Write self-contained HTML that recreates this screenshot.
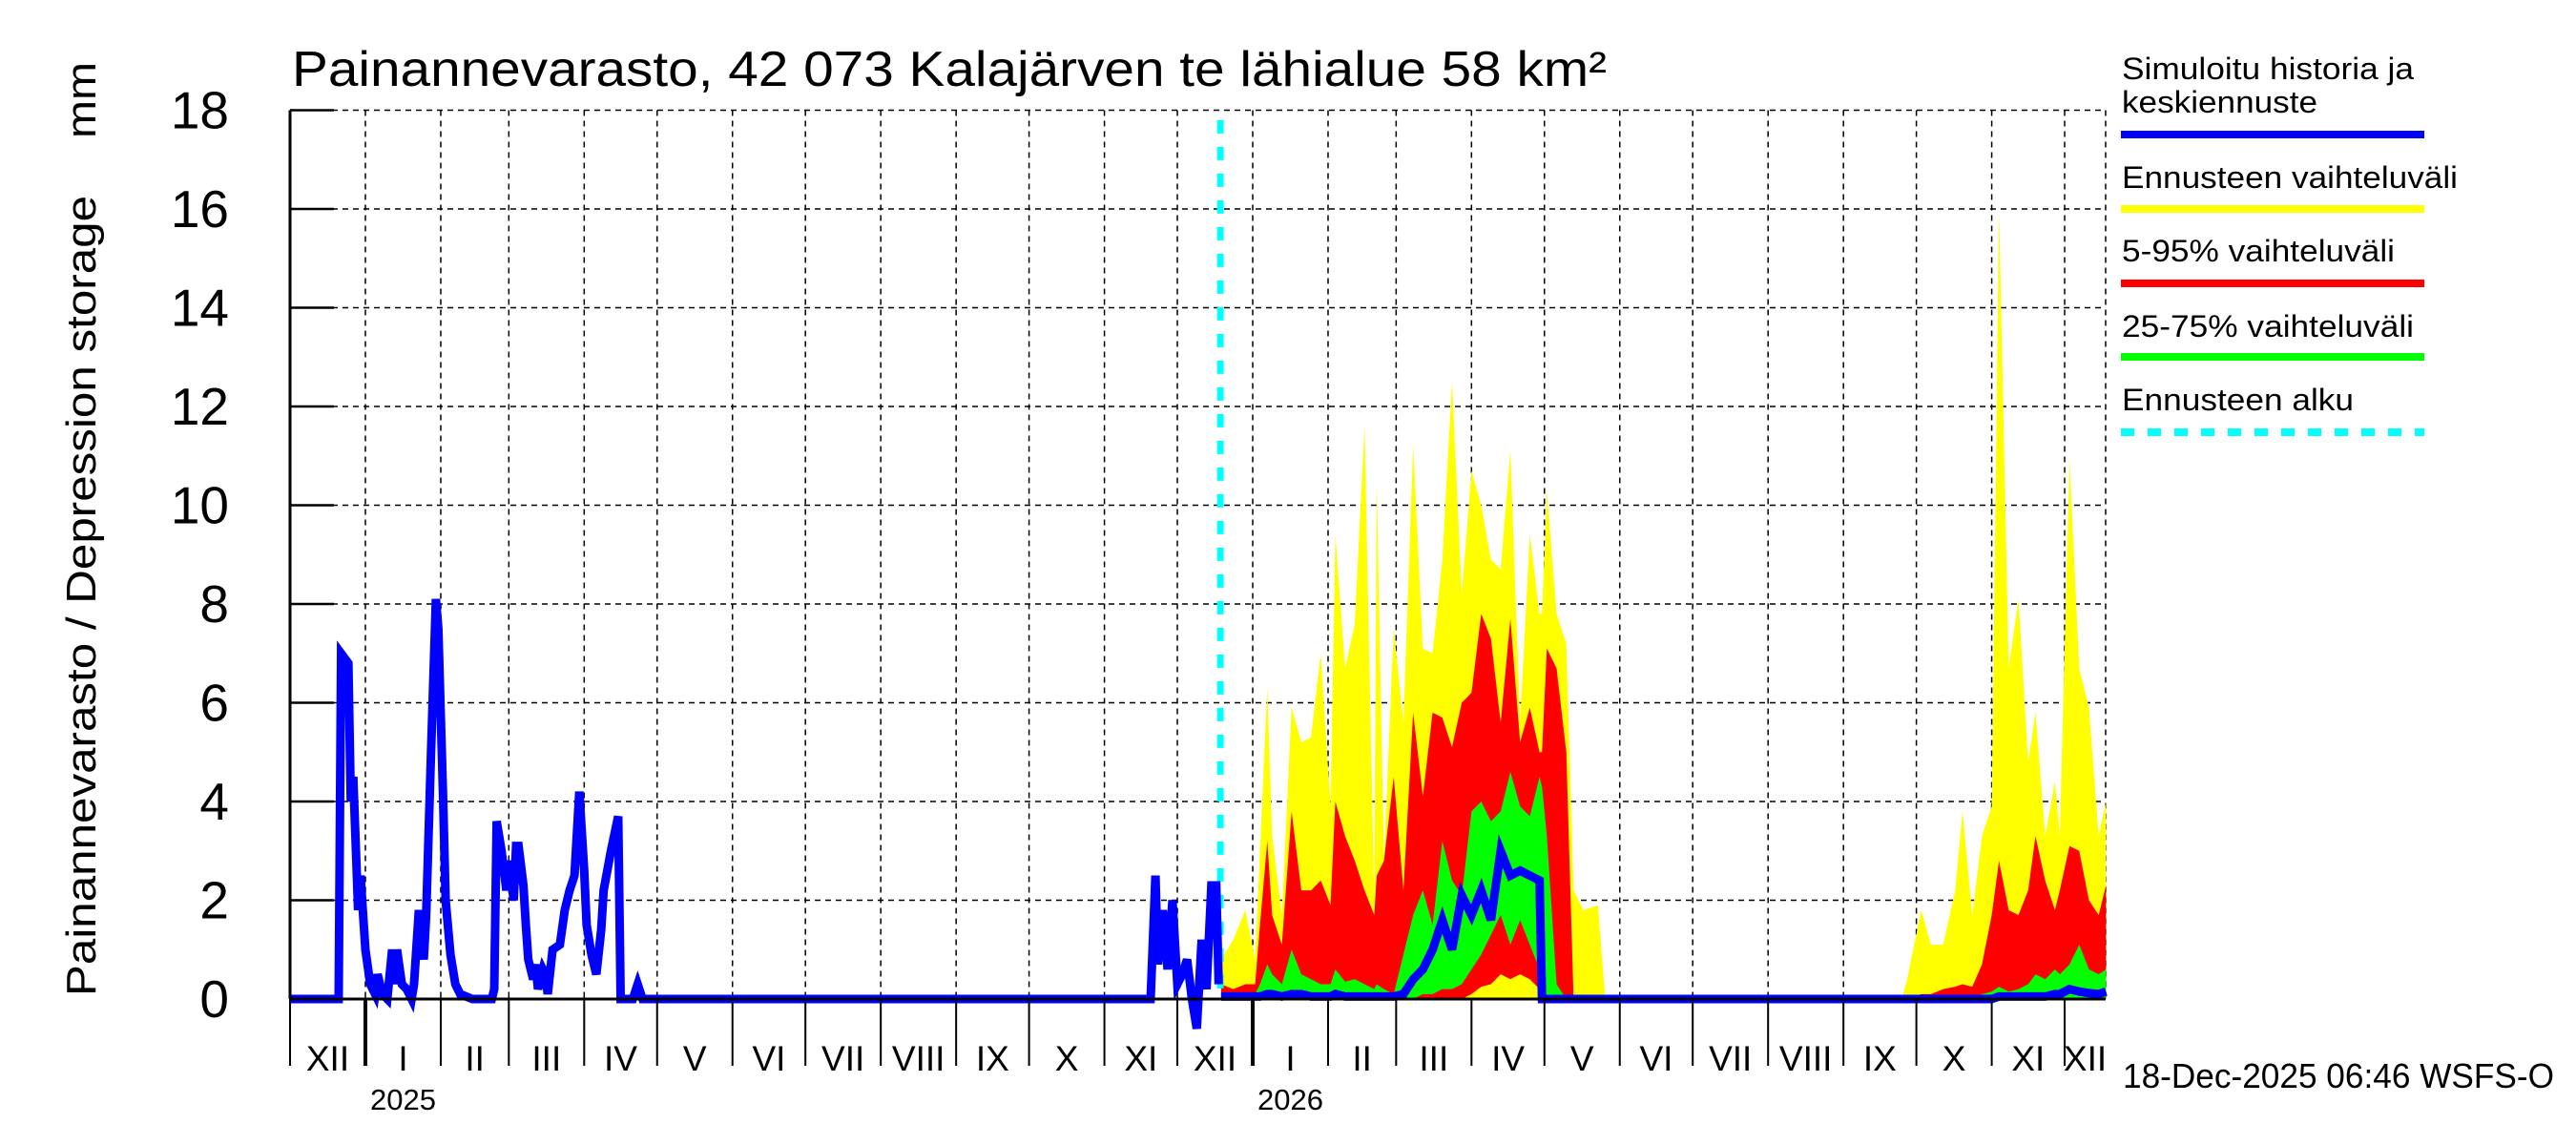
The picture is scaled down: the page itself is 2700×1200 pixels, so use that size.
<!DOCTYPE html>
<html><head><meta charset="utf-8"><style>
html,body{margin:0;padding:0;background:#fff;}
svg{display:block;font-family:"Liberation Sans",Arial,sans-serif;}
</style></head><body>
<svg id="chart" width="2700" height="1200" viewBox="0 0 2700 1200" xmlns="http://www.w3.org/2000/svg">
<rect width="2700" height="1200" fill="#fff"/>
<g id="grid"></g>
<g id="bands"></g>
<g id="lines"></g>
<g id="axes"></g>
<text x="306" y="90" font-size="52" textLength="1378" lengthAdjust="spacingAndGlyphs">Painannevarasto, 42 073 Kalajärven te lähialue 58 km²</text>
<text transform="translate(100,1044) rotate(-90)" font-size="44" textLength="839" lengthAdjust="spacingAndGlyphs">Painannevarasto / Depression storage</text>
<text transform="translate(100,145) rotate(-90)" font-size="44" textLength="80" lengthAdjust="spacingAndGlyphs">mm</text>
<g font-size="32">
<text x="2224" y="83" textLength="306" lengthAdjust="spacingAndGlyphs">Simuloitu historia ja</text>
<text x="2224" y="118" textLength="205" lengthAdjust="spacingAndGlyphs">keskiennuste</text>
<line x1="2223" y1="141" x2="2541" y2="141" stroke="#0000ff" stroke-width="8"/>
<text x="2224" y="197" textLength="352" lengthAdjust="spacingAndGlyphs">Ennusteen vaihteluväli</text>
<line x1="2223" y1="219" x2="2541" y2="219" stroke="#ffff00" stroke-width="8"/>
<text x="2224" y="274" textLength="286" lengthAdjust="spacingAndGlyphs">5-95% vaihteluväli</text>
<line x1="2223" y1="297" x2="2541" y2="297" stroke="#ff0000" stroke-width="8"/>
<text x="2224" y="353" textLength="306" lengthAdjust="spacingAndGlyphs">25-75% vaihteluväli</text>
<line x1="2223" y1="374" x2="2541" y2="374" stroke="#00ff00" stroke-width="8"/>
<text x="2224" y="430" textLength="243" lengthAdjust="spacingAndGlyphs">Ennusteen alku</text>
<line x1="2223" y1="453" x2="2541" y2="453" stroke="#00ffff" stroke-width="8" stroke-dasharray="14,14"/>
</g>
<text x="2225" y="1140" font-size="36" textLength="452" lengthAdjust="spacingAndGlyphs">18-Dec-2025 06:46 WSFS-O</text>
</svg>
<script>
const yTicks=[0,2,4,6,8,10,12,14,16,18];
const monthNames=["I","II","III","IV","V","VI","VII","VIII","IX","X","XI","XII"];
const forecastStartDay=382;
const histDays=[0,20,21,24,25,26,28,29,31,33,35,36,38,40,42,43,44,46,48,50,51,53,55,56,58,60,61,63,64,66,68,70,75,83,84,85,87,89,90,92,93,94,96,97,98,100,101,102,104,105,106,108,111,113,115,117,119,121,122,124,126,128,129,132,135,136,141,143,145,354,356,357,359,361,363,365,367,369,371,373,375,377,379,381,382];
const histVals=[0,0,7.0,6.8,4.0,4.5,1.8,2.5,1.0,0.3,0.1,0.5,0.1,0,1.0,0.3,1.0,0.3,0.2,0,0.3,1.8,0.8,1.7,5.0,8.1,7.5,4.0,2.0,0.9,0.3,0.1,0,0,0.2,3.6,3.0,2.2,2.8,2.0,3.1,3.1,2.3,1.5,0.8,0.4,0.7,0.2,0.6,0.5,0.1,1.0,1.1,1.8,2.2,2.5,4.2,2.6,1.5,0.9,0.5,1.4,2.2,3.0,3.7,0,0,0.3,0,0,2.5,0.7,1.8,0.6,2.0,0.3,0.5,0.8,0,-0.6,1.2,0.2,2.3,2.3,0.3];
const fDays=[383,388,393,397,399,402,404,408,412,416,420,424,428,430,434,438,442,446,447,450,454,458,462,466,470,474,478,482,486,490,494,498,502,506,510,514,515,517,521,525,528,532,538,541,663,665,671,675,680,685,688,692,696,700,703,707,711,715,718,722,726,728,732,736,740,744,747];
const yMax=[0.8,1.2,1.8,0.8,3.0,6.3,3.3,1.7,5.9,5.2,5.3,7.0,3.9,9.4,6.7,7.6,11.6,2.0,10.5,2.8,7.5,5.6,11.2,7.1,7.0,8.9,12.5,8.2,10.7,10.0,8.9,8.7,11.1,5.6,9.4,7.8,7.8,10.3,7.8,7.2,2.2,1.8,1.9,0,0,0.35,1.8,1.1,1.1,2.2,3.8,1.7,3.3,3.9,16.0,6.7,8.1,4.8,5.8,3.3,4.4,3.3,10.9,6.7,5.9,3.3,4.0];
const rMax=[0.3,0.2,0.3,0.3,1.5,3.2,1.7,1.1,3.8,2.2,2.2,2.4,1.9,4.0,3.3,2.8,2.2,1.7,2.5,2.8,4.5,2.2,5.8,4.1,5.8,5.7,5.1,6.0,6.2,7.8,7.3,5.6,7.7,5.2,5.9,5.0,5.0,7.1,6.7,5.0,0,0,0,0,0,0,0.1,0.1,0.2,0.25,0.3,0.25,0.7,1.7,2.8,1.8,1.7,2.2,3.3,2.4,1.8,2.2,3.1,3.0,2.0,1.7,2.3];
const rMin=[0,0,0,0,0,0,0,0,0,0,0,0,0,0,0,0,0,0,0,0,0,0,0,0,0,0,0,0,0.1,0.25,0.3,0.5,0.4,0.5,0.4,0.2,0.2,0,0,0,0,0,0,0,0,0,0,0,0,0,0,0,0,0,0,0,0,0,0,0,0,0,0,0,0,0,0];
const gMax=[0.1,0.05,0.1,0.1,0.3,0.7,0.5,0.3,1.0,0.5,0.4,0.3,0.3,0.6,0.35,0.4,0.3,0.2,0.3,0.2,0.1,0.9,1.7,2.2,1.5,3.2,2.4,2.1,3.8,4.0,3.6,3.8,4.6,3.9,3.7,4.5,4.3,3.3,0.3,0,0,0,0,0,0,0,0,0,0,0,0.02,0.05,0.1,0.15,0.25,0.15,0.2,0.3,0.5,0.4,0.6,0.5,0.7,1.1,0.6,0.5,0.6];
const gMin=[0,0,0,0,0,0,0,0,0,0,0,0,0,0,0,0,0,0,0,0,0,0,0,0.1,0.1,0.2,0.2,0.3,0.6,0.9,1.3,1.7,1.1,1.6,1.1,0.6,0.5,0,0,0,0,0,0,0,0,0,0,0,0,0,0,0,0,0,0,0,0,0,0,0,0,0,0,0,0,0,0];
const med=[0.05,0.05,0.05,0.05,0.05,0.1,0.1,0.05,0.1,0.1,0.05,0.05,0.05,0.1,0.05,0.05,0.05,0.05,0.05,0.05,0.05,0.1,0.4,0.6,1.0,1.6,1.0,2.1,1.7,2.2,1.6,3.0,2.5,2.6,2.5,2.4,0,0,0,0,0,0,0,0,0,0,0,0,0,0,0,0,0,0,0.05,0.05,0.05,0.05,0.05,0.05,0.1,0.1,0.2,0.15,0.12,0.1,0.15];

const NS="http://www.w3.org/2000/svg";
const X0=304,X1=2207,Y0=1047,PXD=2.548,PXV=51.75;
function X(d){return X0+d*PXD;}
function Y(v){return Y0-v*PXV;}
function mk(tag,attrs,parent){const e=document.createElementNS(NS,tag);for(const k in attrs)e.setAttribute(k,attrs[k]);parent.appendChild(e);return e;}
const grid=document.getElementById('grid'),bands=document.getElementById('bands'),lines=document.getElementById('lines'),axes=document.getElementById('axes');
const base=Date.UTC(2024,11,1);
function dayOf(y,m){return (Date.UTC(y,m,1)-base)/86400000;}
const bounds=[];
for(let y=2024,m=11;;){const d=dayOf(y,m);if(X(d)>X1+1)break;bounds.push({d:d,y:y,m:m});m++;if(m>11){m=0;y++;}}
bounds.forEach((b,i)=>{
  if(i>0){const gl=mk('line',{x1:X(b.d),y1:Y(18),x2:X(b.d),y2:Y0,stroke:'#000','stroke-width':1.5,'stroke-dasharray':'6,5'},grid);
  
  }
  const tk=mk('line',{x1:X(b.d),y1:Y0,x2:X(b.d),y2:1117,stroke:'#000','stroke-width':b.m===0?4:2},axes);
  
  
  const next=i+1<bounds.length?bounds[i+1].d:(X1-X0)/PXD;
  const t=mk('text',{x:(X(b.d)+X(next))/2,y:1122,'font-size':37,'text-anchor':'middle'},axes);
  t.textContent=monthNames[b.m];
  
  
  if(b.m===0){const yt=mk('text',{x:(X(b.d)+X(next))/2,y:1163,'font-size':31,'text-anchor':'middle'},axes);yt.textContent=String(b.y);
  
  }
});
const rg=mk('line',{x1:X1,y1:Y(18),x2:X1,y2:Y0,stroke:'#000','stroke-width':1.5,'stroke-dasharray':'6,5'},grid);


yTicks.forEach(v=>{
  if(v>0){const gl=mk('line',{x1:X0,y1:Y(v),x2:X1,y2:Y(v),stroke:'#000','stroke-width':1.5,'stroke-dasharray':'6,5'},grid);
  
  }
  const tk=mk('line',{x1:X0,y1:Y(v),x2:X0+46,y2:Y(v),stroke:'#000','stroke-width':2.5},axes);
  
  
  const t=mk('text',{x:240,y:Y(v)+19,'font-size':55,'text-anchor':'end'},axes);t.textContent=String(v);
  
  
});
const ya=mk('line',{x1:X0,y1:Y(18),x2:X0,y2:Y0,stroke:'#000','stroke-width':3},axes);


const xa=mk('line',{x1:X0,y1:Y0,x2:X1,y2:Y0,stroke:'#000','stroke-width':3},axes);


function band(lo,hi,color,name){
  let p=fDays.map((d,i)=>X(d)+','+Y(hi[i])).join(' ');
  for(let i=fDays.length-1;i>=0;i--)p+=' '+X(fDays[i])+','+Y(lo[i]);
  const e=mk('polygon',{points:p,fill:color},bands);
  
  
}
const zeros=fDays.map(()=>0);
band(zeros,yMax,'#ffff00','band-min-max');
band(rMin,rMax,'#ff0000','band-5-95');
band(gMin,gMax,'#00ff00','band-25-75');
const fl=mk('line',{x1:X(forecastStartDay+0.7),y1:Y(17.8),x2:X(forecastStartDay+0.7),y2:Y0,stroke:'#00ffff','stroke-width':7,'stroke-dasharray':'14,14'},lines);


const hp=mk('polyline',{points:histDays.map((d,i)=>X(d)+','+Y(histVals[i])).join(' '),fill:'none',stroke:'#0000ff','stroke-width':9,'stroke-linejoin':'miter'},lines);


const mp=mk('polyline',{points:fDays.map((d,i)=>X(d)+','+Y(med[i])).join(' '),fill:'none',stroke:'#0000ff','stroke-width':9},lines);


</script>
</body></html>
